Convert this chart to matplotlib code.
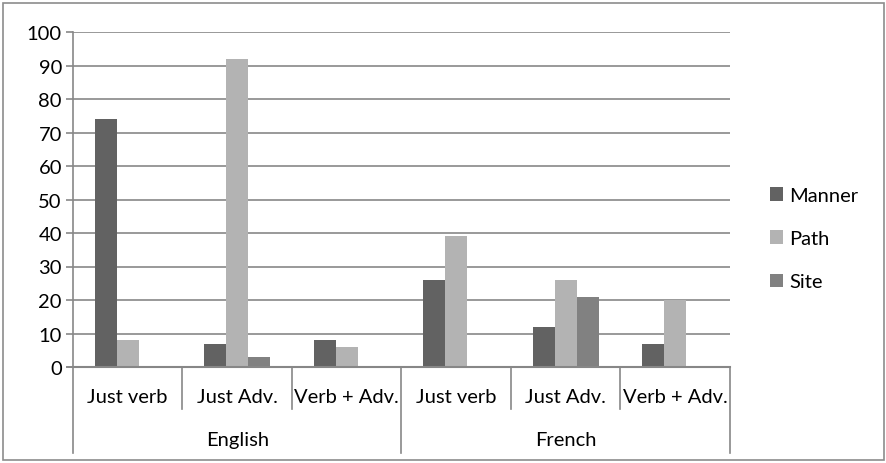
import numpy as np
import matplotlib
matplotlib.use('Agg')
import matplotlib.pyplot as plt
from matplotlib.patches import Patch, Rectangle
import matplotlib.transforms as mtrans

plt.rcParams['font.family'] = ['Lato', 'DejaVu Sans']

# data
groups = ['English', 'French']
categories = ['Just verb', 'Just Adv.', 'Verb + Adv.']
series = ['Manner', 'Path', 'Site']
manner = [74, 7, 8, 26, 12, 7]
path = [8, 92, 6, 39, 26, 20]
site = [0, 3, 0, 0, 21, 0]
colors = ['#626262', '#b3b3b3', '#818181']

FS = 14.5
grid_col = '#878787'

fig = plt.figure(figsize=(8.87, 4.64), dpi=100)
ax = fig.add_axes([73/887, 1 - 368/464, (730 - 73)/887, (368 - 33)/464])

n = len(manner)
x = np.arange(n) + 0.5
bw = 22 / 109.5
for i, (vals, c) in enumerate(zip([manner, path, site], colors)):
    ax.bar(x + (i - 1) * bw, vals, width=bw, color=c, zorder=3, linewidth=0)

ax.set_xlim(0, n)
ax.set_ylim(0, 100)
ax.set_yticks(np.arange(0, 101, 10))
ax.yaxis.grid(True, color=grid_col, linewidth=1.2, zorder=0)
ax.set_xticks([])
for s in ['top', 'right', 'bottom']:
    ax.spines[s].set_visible(False)
ax.spines['left'].set_color(grid_col)
ax.spines['left'].set_linewidth(1.2)
ax.tick_params(axis='y', length=5, width=1.2, color=grid_col, labelsize=FS, pad=3)

# multi-level category axis
tr = mtrans.blended_transform_factory(ax.transData, ax.transAxes)
ax.plot([0, n], [0, 0], transform=tr, color=grid_col, lw=1.5, clip_on=False, zorder=4)
ax.plot([-0.055, 0], [0, 0], transform=tr, color=grid_col, lw=1.2, clip_on=False)
inner_h = -(410 - 368) / (368 - 33)
outer_h = -(454 - 368) / (368 - 33)
for k in range(n + 1):
    bottom = outer_h if k % 3 == 0 else inner_h
    ax.plot([k, k], [0, bottom], transform=tr, color=grid_col, lw=1.2, clip_on=False)
for k in range(n):
    ax.text(k + 0.5, -(398 - 368) / (368 - 33), categories[k % 3], transform=tr,
            ha='center', va='center', fontsize=FS)
for g, name in enumerate(groups):
    ax.text(g * 3 + 1.5, -(441 - 368) / (368 - 33), name, transform=tr,
            ha='center', va='center', fontsize=FS)

handles = [Patch(facecolor=c, edgecolor='none') for c in colors]
fig.legend(handles, series, loc='upper left', bbox_to_anchor=(762/887, 1 - 180/464),
           frameon=False, fontsize=FS, handlelength=0.65, handleheight=0.65,
           handletextpad=0.3, labelspacing=1.3, borderaxespad=0)

fig.patches.append(Rectangle((3/887, 3/464), 881/887, 457/464, transform=fig.transFigure,
                             fill=False, edgecolor='#8c8c8c', linewidth=1.2))

fig.savefig('out.png', dpi=100)
